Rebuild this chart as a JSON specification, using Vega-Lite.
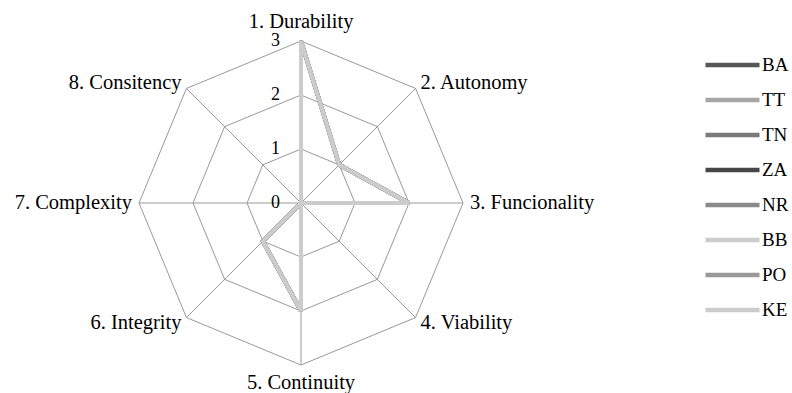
{
  "$schema": "https://vega.github.io/schema/vega-lite/v6.json",
  "width": 792,
  "height": 393,
  "autosize": {"type": "none"},
  "padding": 0,
  "background": "#ffffff",
  "config": {
    "view": {"stroke": null},
    "font": "Liberation Serif",
    "legend": {"labelFont": "Liberation Serif, Times New Roman, serif", "labelFontSize": 19, "labelColor": "#000000"}
  },
  "datasets": {
    "axes": [
      {"axis": "1. Durability", "idx": 0},
      {"axis": "2. Autonomy", "idx": 1},
      {"axis": "3. Funcionality", "idx": 2},
      {"axis": "4. Viability", "idx": 3},
      {"axis": "5. Continuity", "idx": 4},
      {"axis": "6. Integrity", "idx": 5},
      {"axis": "7. Complexity", "idx": 6},
      {"axis": "8. Consitency", "idx": 7}
    ],
    "levels": [{"level": 0}, {"level": 1}, {"level": 2}, {"level": 3}],
    "scores": [
      {"series": "BA", "axis": "1. Durability", "value": 3},
      {"series": "BA", "axis": "2. Autonomy", "value": 1},
      {"series": "BA", "axis": "3. Funcionality", "value": 2},
      {"series": "BA", "axis": "4. Viability", "value": 0},
      {"series": "BA", "axis": "5. Continuity", "value": 2},
      {"series": "BA", "axis": "6. Integrity", "value": 1},
      {"series": "BA", "axis": "7. Complexity", "value": 0},
      {"series": "BA", "axis": "8. Consitency", "value": 0},
      {"series": "TT", "axis": "1. Durability", "value": 3},
      {"series": "TT", "axis": "2. Autonomy", "value": 1},
      {"series": "TT", "axis": "3. Funcionality", "value": 2},
      {"series": "TT", "axis": "4. Viability", "value": 0},
      {"series": "TT", "axis": "5. Continuity", "value": 2},
      {"series": "TT", "axis": "6. Integrity", "value": 1},
      {"series": "TT", "axis": "7. Complexity", "value": 0},
      {"series": "TT", "axis": "8. Consitency", "value": 0},
      {"series": "TN", "axis": "1. Durability", "value": 3},
      {"series": "TN", "axis": "2. Autonomy", "value": 1},
      {"series": "TN", "axis": "3. Funcionality", "value": 2},
      {"series": "TN", "axis": "4. Viability", "value": 0},
      {"series": "TN", "axis": "5. Continuity", "value": 2},
      {"series": "TN", "axis": "6. Integrity", "value": 1},
      {"series": "TN", "axis": "7. Complexity", "value": 0},
      {"series": "TN", "axis": "8. Consitency", "value": 0},
      {"series": "ZA", "axis": "1. Durability", "value": 3},
      {"series": "ZA", "axis": "2. Autonomy", "value": 1},
      {"series": "ZA", "axis": "3. Funcionality", "value": 2},
      {"series": "ZA", "axis": "4. Viability", "value": 0},
      {"series": "ZA", "axis": "5. Continuity", "value": 2},
      {"series": "ZA", "axis": "6. Integrity", "value": 1},
      {"series": "ZA", "axis": "7. Complexity", "value": 0},
      {"series": "ZA", "axis": "8. Consitency", "value": 0},
      {"series": "NR", "axis": "1. Durability", "value": 3},
      {"series": "NR", "axis": "2. Autonomy", "value": 1},
      {"series": "NR", "axis": "3. Funcionality", "value": 2},
      {"series": "NR", "axis": "4. Viability", "value": 0},
      {"series": "NR", "axis": "5. Continuity", "value": 2},
      {"series": "NR", "axis": "6. Integrity", "value": 1},
      {"series": "NR", "axis": "7. Complexity", "value": 0},
      {"series": "NR", "axis": "8. Consitency", "value": 0},
      {"series": "BB", "axis": "1. Durability", "value": 3},
      {"series": "BB", "axis": "2. Autonomy", "value": 1},
      {"series": "BB", "axis": "3. Funcionality", "value": 2},
      {"series": "BB", "axis": "4. Viability", "value": 0},
      {"series": "BB", "axis": "5. Continuity", "value": 2},
      {"series": "BB", "axis": "6. Integrity", "value": 1},
      {"series": "BB", "axis": "7. Complexity", "value": 0},
      {"series": "BB", "axis": "8. Consitency", "value": 0},
      {"series": "PO", "axis": "1. Durability", "value": 3},
      {"series": "PO", "axis": "2. Autonomy", "value": 1},
      {"series": "PO", "axis": "3. Funcionality", "value": 2},
      {"series": "PO", "axis": "4. Viability", "value": 0},
      {"series": "PO", "axis": "5. Continuity", "value": 2},
      {"series": "PO", "axis": "6. Integrity", "value": 1},
      {"series": "PO", "axis": "7. Complexity", "value": 0},
      {"series": "PO", "axis": "8. Consitency", "value": 0},
      {"series": "KE", "axis": "1. Durability", "value": 3},
      {"series": "KE", "axis": "2. Autonomy", "value": 1},
      {"series": "KE", "axis": "3. Funcionality", "value": 2},
      {"series": "KE", "axis": "4. Viability", "value": 0},
      {"series": "KE", "axis": "5. Continuity", "value": 2},
      {"series": "KE", "axis": "6. Integrity", "value": 1},
      {"series": "KE", "axis": "7. Complexity", "value": 0},
      {"series": "KE", "axis": "8. Consitency", "value": 0}
    ]
  },
  "encoding": {
    "x": {"field": "x", "type": "quantitative", "scale": {"domain": [-5.5741, 9.0926], "nice": false, "zero": false}, "axis": null},
    "y": {"field": "y", "type": "quantitative", "scale": {"domain": [-3.5185, 3.7593], "nice": false, "zero": false}, "axis": null}
  },
  "layer": [
    {
      "data": {"name": "axes"},
      "transform": [
        {"calculate": "[1,2,3]", "as": "lv"},
        {"flatten": ["lv"]},
        {"calculate": "datum.lv*sin(datum.idx*PI/4)", "as": "x"},
        {"calculate": "datum.lv*cos(datum.idx*PI/4)", "as": "y"}
      ],
      "mark": {"type": "line", "interpolate": "linear-closed", "stroke": "#999999", "strokeWidth": 1},
      "encoding": {
        "detail": {"field": "lv", "type": "nominal"},
        "order": {"field": "idx", "type": "quantitative"}
      }
    },
    {
      "data": {"name": "axes"},
      "transform": [
        {"calculate": "0", "as": "x"},
        {"calculate": "0", "as": "y"},
        {"calculate": "3*sin(datum.idx*PI/4)", "as": "xe"},
        {"calculate": "3*cos(datum.idx*PI/4)", "as": "ye"}
      ],
      "mark": {"type": "rule", "stroke": "#999999", "strokeWidth": 1},
      "encoding": {
        "x2": {"field": "xe"},
        "y2": {"field": "ye"}
      }
    },
    {
      "data": {"name": "scores"},
      "transform": [
        {"lookup": "axis", "from": {"data": {"name": "axes"}, "key": "axis", "fields": ["idx"]}},
        {"calculate": "datum.value*sin(datum.idx*PI/4)", "as": "x"},
        {"calculate": "datum.value*cos(datum.idx*PI/4)", "as": "y"}
      ],
      "mark": {"type": "line", "interpolate": "linear-closed", "strokeWidth": 4},
      "encoding": {
        "color": {
          "field": "series",
          "type": "nominal",
          "sort": null,
          "scale": {
            "domain": ["BA", "TT", "TN", "ZA", "NR", "BB", "PO", "KE"],
            "range": ["#575757", "#a6a6a6", "#7a7a7a", "#474747", "#8a8a8a", "#cccccc", "#999999", "#cccccc"]
          },
          "legend": {
            "title": null,
            "orient": "none",
            "legendX": 703,
            "legendY": 47.5,
            "padding": 0,
            "symbolType": "stroke",
            "symbolSize": 2916,
            "symbolStrokeWidth": 4.5,
            "symbolOpacity": 1,
            "labelFont": "Liberation Serif, Times New Roman, serif",
            "labelFontSize": 19,
            "labelColor": "#000000",
            "labelOffset": 0,
            "clipHeight": 35,
            "rowPadding": 0,
            "labelLimit": 0
          }
        },
        "order": {"field": "idx", "type": "quantitative"}
      }
    },
    {
      "data": {"name": "levels"},
      "transform": [
        {"calculate": "0", "as": "x"},
        {"calculate": "datum.level", "as": "y"}
      ],
      "mark": {"type": "text", "align": "right", "baseline": "middle", "dx": -21, "fontSize": 18, "font": "Liberation Serif", "color": "#000000"},
      "encoding": {"text": {"field": "level", "type": "quantitative"}}
    },
    {
      "data": {"name": "axes"},
      "transform": [
        {"filter": "datum.idx >= 1 && datum.idx <= 3"},
        {"calculate": "3.13*sin(datum.idx*PI/4)", "as": "x"},
        {"calculate": "3.13*cos(datum.idx*PI/4)", "as": "y"}
      ],
      "mark": {"type": "text", "align": "left", "baseline": "middle", "fontSize": 20.5, "font": "Liberation Serif", "color": "#000000"},
      "encoding": {"text": {"field": "axis", "type": "nominal"}}
    },
    {
      "data": {"name": "axes"},
      "transform": [
        {"filter": "datum.idx >= 5"},
        {"calculate": "3.13*sin(datum.idx*PI/4)", "as": "x"},
        {"calculate": "3.13*cos(datum.idx*PI/4)", "as": "y"}
      ],
      "mark": {"type": "text", "align": "right", "baseline": "middle", "fontSize": 20.5, "font": "Liberation Serif", "color": "#000000"},
      "encoding": {"text": {"field": "axis", "type": "nominal"}}
    },
    {
      "data": {"name": "axes"},
      "transform": [
        {"filter": "datum.idx == 0"},
        {"calculate": "0", "as": "x"},
        {"calculate": "3.13", "as": "y"}
      ],
      "mark": {"type": "text", "align": "center", "baseline": "alphabetic", "dy": -6, "fontSize": 20.5, "font": "Liberation Serif", "color": "#000000"},
      "encoding": {"text": {"field": "axis", "type": "nominal"}}
    },
    {
      "data": {"name": "axes"},
      "transform": [
        {"filter": "datum.idx == 4"},
        {"calculate": "0", "as": "x"},
        {"calculate": "-3.13", "as": "y"}
      ],
      "mark": {"type": "text", "align": "center", "baseline": "alphabetic", "dy": 17, "fontSize": 20.5, "font": "Liberation Serif", "color": "#000000"},
      "encoding": {"text": {"field": "axis", "type": "nominal"}}
    }
  ]
}
